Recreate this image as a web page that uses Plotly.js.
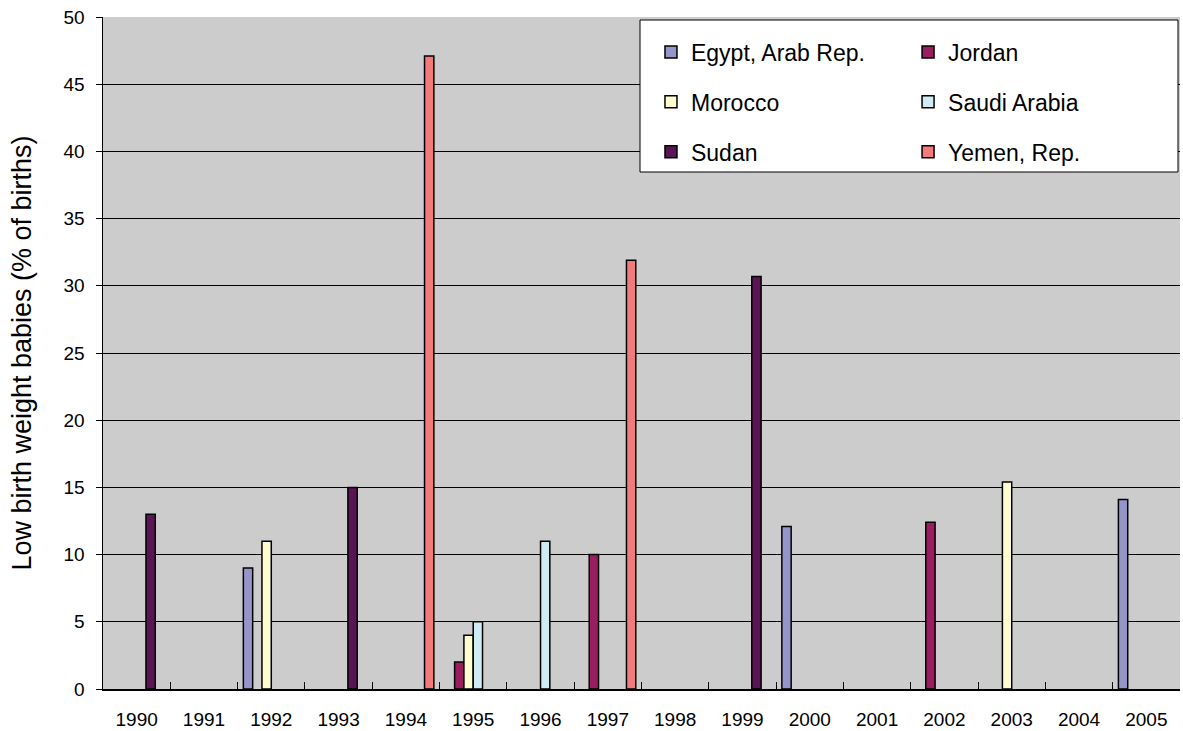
<!DOCTYPE html>
<html>
<head>
<meta charset="utf-8">
<script src="https://cdn.plot.ly/plotly-3.0.1.min.js"></script>
<style>html,body{margin:0;padding:0;background:#fff;}#chart{width:1183px;height:731px;}</style>
</head>
<body>
<div id="chart"></div>
<script>
const years = ['1990','1991','1992','1993','1994','1995','1996','1997','1998','1999','2000','2001','2002','2003','2004','2005'];
const seriesNames = ['Egypt, Arab Rep.','Jordan','Morocco','Saudi Arabia','Sudan','Yemen, Rep.'];
const egypt  = [null,null,9,null,null,null,null,null,null,null,12.1,null,null,null,null,14.1];
const jordan = [null,null,null,null,null,2,null,10,null,null,null,null,12.4,null,null,null];
const morocco= [null,null,11,null,null,4,null,null,null,null,null,null,null,15.4,null,null];
const saudi  = [null,null,null,null,null,5,11,null,null,null,null,null,null,null,null,null];
const sudan  = [13,null,null,15,null,null,null,null,null,30.7,null,null,null,null,null,null];
const yemen  = [null,null,null,null,47.1,null,null,31.9,null,null,null,null,null,null,null,null];
const colors = ['#9595CA','#9A1E5F','#FFFDD0','#CFECF2','#5A1556','#F27A7A'];
const values = [egypt, jordan, morocco, saudi, sudan, yemen];
const legendOf = ['legend','legend2','legend','legend2','legend','legend2'];

const traces = values.map((v,i)=>({
  type:'bar', x: years, y: v, name: seriesNames[i],
  marker:{color: colors[i], line:{color:'#000000', width:1.5}},
  legend: legendOf[i], legendgroup: 'g'+i, hoverinfo:'y'
}));

const FONT = 'Liberation Sans, Arial, sans-serif';
const legendBase = {
  bgcolor:'rgba(0,0,0,0)', borderwidth:0, font:{family:FONT, size:23, color:'#000'},
  orientation:'v', tracegroupgap:17, yanchor:'top', xanchor:'left', traceorder:'grouped'
};
const layout = {
  width:1183, height:731,
  margin:{l:103, r:3, t:17, b:42},
  paper_bgcolor:'#ffffff', plot_bgcolor:'#CCCCCC',
  barmode:'group', bargap:0.17, bargroupgap:0,
  font:{family:FONT, color:'#000'},
  xaxis:{type:'category', tickson:'boundaries', ticks:'inside', ticklen:7, tickwidth:1, tickcolor:'#000',
    showline:true, linecolor:'#000', linewidth:1.5, showgrid:false, zeroline:false,
    tickfont:{family:FONT, size:19, color:'#000'}, ticklabelstandoff:13, fixedrange:true},
  yaxis:{range:[0,50], dtick:5, tick0:0, ticks:'outside', ticklen:6, tickcolor:'#000',
    showline:true, linecolor:'#000', linewidth:1.5, showgrid:true, gridcolor:'#000', gridwidth:1,
    zeroline:false, tickfont:{family:FONT, size:19, color:'#000'}, ticklabelstandoff:7,
    title:{text:'Low birth weight babies (% of births)', font:{family:FONT, size:27, color:'#000'}, standoff:24}},
  legend: Object.assign({}, legendBase, {x:0.5088, y:0.98}),
  legend2: Object.assign({}, legendBase, {x:0.7475, y:0.98}),
  shapes:[{type:'rect', xref:'paper', yref:'paper', x0:(640-103)/1077, x1:(1178-103)/1077,
    y0:(689-172)/672, y1:(689-20)/672, fillcolor:'#ffffff', line:{color:'#000', width:1}, layer:'above'}],
  showlegend:true
};
Plotly.newPlot('chart', traces, layout, {displayModeBar:false, staticPlot:true});
</script>
</body>
</html>
